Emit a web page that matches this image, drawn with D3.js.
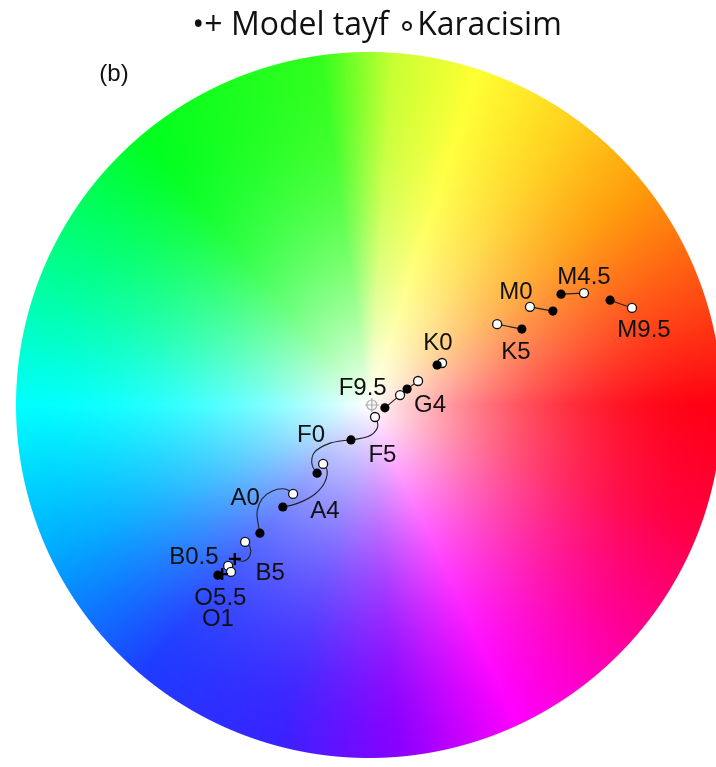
<!DOCTYPE html>
<html>
<head>
<meta charset="utf-8">
<script src="https://cdn.jsdelivr.net/npm/d3@7"></script>
<style>
  body { margin: 0; background: #fff; }
  #wrap { position: relative; width: 716px; height: 767px; }
  #wheel, #chart { position: absolute; left: 0; top: 0; }
</style>
</head>
<body>
<div id="wrap">
  <canvas id="wheel" width="716" height="767"></canvas>
  <div id="chart"></div>
</div>
<script>
const W = 716, H = 767;
const center = { x: 369, y: 405 }, radius = 353;

// hue around the wheel (degrees, counter-clockwise from east)
const hueAngles = [0, 18, 38, 55, 72, 86, 98, 130, 160, 180, 205, 230, 255, 275, 295, 320, 340, 360];
const hueColors = ['#ff0012', '#ff4a14', '#ff9a0a', '#ffd21e', '#ffff33', '#c8ff33', '#33ff1e', '#00ff1e',
                   '#00ffa0', '#00ffff', '#00aaff', '#1e3cff', '#3a22ff', '#8a00ff', '#ff00ff', '#ff0090', '#ff0040', '#ff0012'];

// model spectra (filled dots)
const modelX = [-42.8, -30.9, -24.4, -14.7, -5.1, 4.5, 10.8, 19.3, 43.3, 52.1, 54.4, 68.3];
const modelY = [-48.2, -36.3, -28.9, -19.3, -9.9, -0.8, 4.5, 11.3, 21.5, 26.6, 31.4, 29.7];
// model spectra (plus markers)
const plusX = [-41.6, -38.0];
const plusY = [-47.9, -43.6];
// black body (open circles)
const bbX = [-39.9, -39.1, -35.1, -21.5, -13.0, 1.7, 8.8, 13.9, 20.7, 36.3, 45.6, 60.9, 74.5];
const bbY = [-45.6, -47.3, -38.8, -25.2, -16.7, -3.4, 2.8, 6.8, 11.9, 22.9, 27.8, 31.7, 27.5];
// white point
const whitePoint = [0.8, 0];

// connecting tracks
const curves = [
  [[1.7, -3.4], [2.5, -5.9], [0.6, -8.5], [-5.1, -9.9]],
  [[-5.1, -9.9], [-11.0, -10.8], [-15.6, -13.6], [-16.1, -17.0], [-14.7, -19.3]],
  [[-13.0, -16.7], [-11.9, -18.4], [-12.5, -21.8], [-15.3, -25.2], [-20.1, -27.8], [-24.4, -28.9]],
  [[-21.5, -25.2], [-23.8, -23.8], [-27.5, -24.4], [-30.3, -26.6], [-31.7, -30.3], [-31.4, -33.7], [-30.9, -36.3]],
  [[-35.1, -38.8], [-33.7, -40.2], [-33.7, -42.5], [-35.4, -44.2], [-38.0, -43.6]]
];
const segments = [
  [[4.5, -0.8], [8.8, 2.8]], [[8.8, 2.8], [10.8, 4.5]], [[10.8, 4.5], [13.9, 6.8]],
  [[36.3, 22.9], [43.3, 21.5]], [[45.6, 27.8], [52.1, 26.6]],
  [[54.4, 31.4], [60.9, 31.7]], [[68.3, 29.7], [74.5, 27.5]]
];

// spectral type labels
const labelText = ['K0', 'F9.5', 'G4', 'F0', 'F5', 'A0', 'A4', 'B0.5', 'B5', 'O5.5', 'O1', 'M0', 'M4.5', 'M9.5', 'K5'];
const labelX = [19.5, -1.8, 17.3, -16.4, 3.8, -35.1, -12.5, -49.6, -28.0, -42.1, -42.8, 41.6, 60.9, 77.9, 41.6];
const labelY = [18.1, 5.2, 0.6, -8.0, -13.7, -25.8, -29.7, -42.5, -47.2, -54.3, -60.3, 32.6, 36.8, 21.8, 15.6];

const x = d3.scaleLinear().domain([-100, 100]).range([center.x - radius, center.x + radius]);
const y = d3.scaleLinear().domain([-100, 100]).range([center.y + radius, center.y - radius]);

// colour wheel background
const hue = d3.scaleLinear().domain(hueAngles).range(hueColors).interpolate(d3.interpolateRgb);
const lut = d3.range(0, 721).map(i => d3.rgb(hue(i / 2)));

const ctx = document.getElementById('wheel').getContext('2d');
const img = ctx.createImageData(W, H);
for (let py = 0; py < H; py++) {
  for (let px = 0; px < W; px++) {
    const dx = (px + 0.5 - center.x) / radius, dy = (center.y - py - 0.5) / radius;
    const r = Math.sqrt(dx * dx + dy * dy);
    const a = Math.max(0, Math.min(1, (1 - r) * radius + 0.5));
    if (a <= 0) continue;
    let ang = Math.atan2(dy, dx) * 180 / Math.PI;
    if (ang < 0) ang += 360;
    const c = lut[Math.round(ang * 2)];
    const f = 1 - Math.pow(Math.max(0, 1 - Math.min(r, 1)), 2.0);
    const k = (py * W + px) * 4;
    img.data[k] = 255 * (1 - f) + c.r * f;
    img.data[k + 1] = 255 * (1 - f) + c.g * f;
    img.data[k + 2] = 255 * (1 - f) + c.b * f;
    img.data[k + 3] = 255 * a;
  }
}
ctx.putImageData(img, 0, 0);

const svg = d3.select('#chart')
  .append('svg')
  .attr('width', W)
  .attr('height', H);

// title
svg.append('text')
  .attr('x', 377).attr('y', 35)
  .attr('text-anchor', 'middle')
  .attr('font-family', "'Open Sans', sans-serif")
  .attr('font-size', 32)
  .attr('fill', '#111')
  .text('•+ Model tayf  ∘Karacisim');

svg.append('text')
  .attr('x', 114).attr('y', 81)
  .attr('text-anchor', 'middle')
  .attr('font-family', "'Liberation Sans', Arial, sans-serif")
  .attr('font-size', 24)
  .attr('fill', '#111')
  .text('(b)');

const graph = svg.append('g');

const line = d3.line().x(d => x(d[0])).y(d => y(d[1]));
const curveLine = d3.line().x(d => x(d[0])).y(d => y(d[1])).curve(d3.curveCatmullRom);

graph.selectAll('path.curve')
  .data(curves)
  .enter().append('path')
    .attr('class', 'curve')
    .attr('d', curveLine)
    .attr('fill', 'none')
    .attr('stroke', '#222')
    .attr('stroke-width', 1.1);

graph.selectAll('path.seg')
  .data(segments)
  .enter().append('path')
    .attr('class', 'seg')
    .attr('d', line)
    .attr('fill', 'none')
    .attr('stroke', '#222')
    .attr('stroke-width', 1.1);

// white point marker
const wp = graph.append('g')
  .attr('transform', `translate(${x(whitePoint[0])}, ${y(whitePoint[1])})`)
  .attr('stroke', '#999').attr('stroke-width', 1.2).attr('opacity', 0.8);
wp.append('circle').attr('r', 5).attr('fill', 'none');
wp.append('path').attr('d', 'M-7,0H7M0,-7V7');

graph.selectAll('circle.bb')
  .data(bbX.map((v, i) => [v, bbY[i]]))
  .enter().append('circle')
    .attr('class', 'bb')
    .attr('cx', d => x(d[0])).attr('cy', d => y(d[1]))
    .attr('r', 4.5)
    .attr('fill', '#fff')
    .attr('stroke', '#111')
    .attr('stroke-width', 1.3);

graph.selectAll('circle.model')
  .data(modelX.map((v, i) => [v, modelY[i]]))
  .enter().append('circle')
    .attr('class', 'model')
    .attr('cx', d => x(d[0])).attr('cy', d => y(d[1]))
    .attr('r', 4.6)
    .attr('fill', '#000');

graph.selectAll('path.plus')
  .data(plusX.map((v, i) => [v, plusY[i]]))
  .enter().append('path')
    .attr('class', 'plus')
    .attr('d', d => `M${x(d[0]) - 6},${y(d[1])}h12M${x(d[0])},${y(d[1]) - 6}v12`)
    .attr('stroke', '#000')
    .attr('stroke-width', 2.4);

graph.selectAll('text.lab')
  .data(labelText)
  .enter().append('text')
    .attr('class', 'lab')
    .attr('x', (d, i) => x(labelX[i]))
    .attr('y', (d, i) => y(labelY[i]))
    .attr('dy', '0.36em')
    .attr('text-anchor', 'middle')
    .attr('font-family', "'Liberation Sans', Arial, sans-serif")
    .attr('font-size', 24)
    .attr('fill', '#111')
    .text(d => d);
</script>
</body>
</html>
